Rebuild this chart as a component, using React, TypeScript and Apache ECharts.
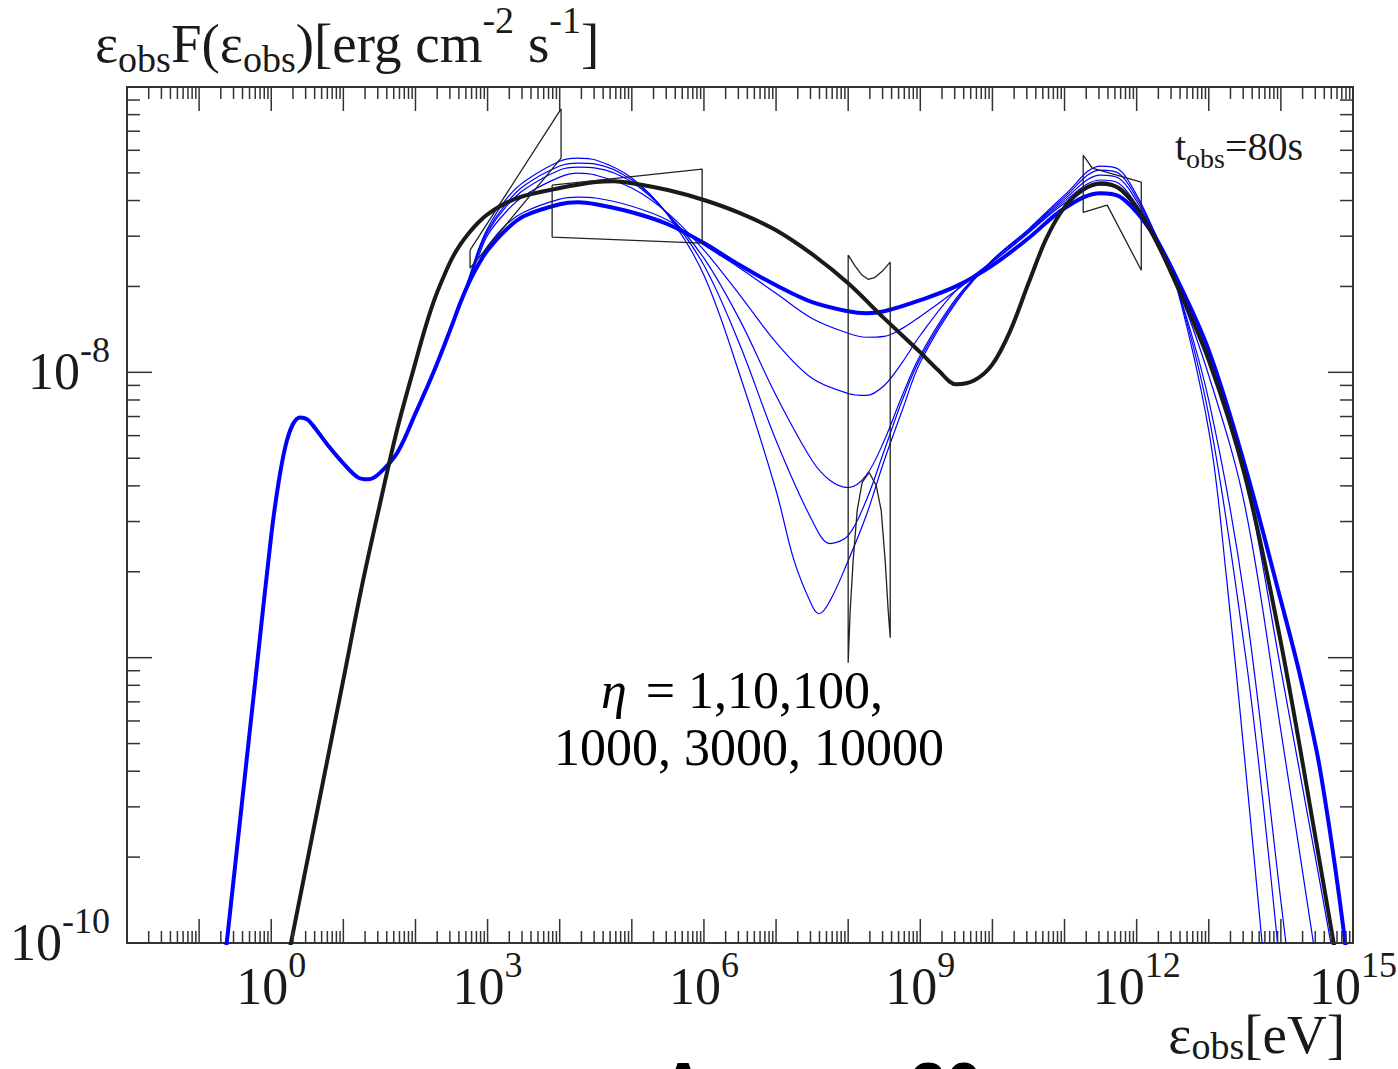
import React, { useEffect, useRef } from "react";
import * as echarts from "echarts";

const SERIF = "'Liberation Serif', 'Times New Roman', serif";
const SANS_BOLD = "'Liberation Sans', Arial, sans-serif";
const TXT = "#1a1a1a";
const AXIS = "#333333";
const BLUE = "#0000ff";
const BLACK = "#1a1a1a";

// axis ranges
const X_MIN = 1e-2;
const X_MAX = 1e15;
const Y_MIN = 1e-10;
const Y_MAX = 1e-7;

// tick labels (exponents of 10)
const xLabelExponents = [0, 3, 6, 9, 12, 15];
const yLabelExponents = [-8, -10];
// decades carrying major ticks
const xDecades = [-2, -1, 0, 1, 2, 3, 4, 5, 6, 7, 8, 9, 10, 11, 12, 13, 14, 15];
const yDecades = [-10, -9, -8, -7];
const minorMultipliers = [2, 3, 4, 5, 6, 7, 8, 9];

// ---- curves, points as [log10(E/eV), log10(E F(E) / erg cm^-2 s^-1)] ----
const blueLowShared = [
  [-0.7, -10.19], [-0.6, -9.96], [-0.4, -9.495], [-0.2, -9.032], [0, -8.572], [0.1, -8.389],
  [0.2, -8.256], [0.3, -8.182], [0.4, -8.158], [0.5, -8.165], [0.6, -8.193], [0.8, -8.26],
  [1.0, -8.319], [1.2, -8.368], [1.35, -8.375], [1.5, -8.354], [1.75, -8.281], [2.0, -8.144],
  [2.25, -8.0], [2.5, -7.839], [2.625, -7.754],
];

const eta1 = [
  [2.75, -7.681], [2.875, -7.621], [3, -7.572], [3.25, -7.502], [3.5, -7.453], [4, -7.411],
  [4.25, -7.404], [4.5, -7.411], [5, -7.439], [5.5, -7.481], [6, -7.547], [6.5, -7.625],
  [7, -7.695], [7.5, -7.754], [8, -7.786], [8.25, -7.793], [8.5, -7.786], [9, -7.747],
  [9.5, -7.698], [10, -7.625], [10.5, -7.53], [11, -7.425], [11.5, -7.372], [11.75, -7.382],
  [12, -7.439], [12.25, -7.526], [12.5, -7.642], [13, -7.923], [13.5, -8.326], [14, -8.8],
  [14.25, -9.046], [14.5, -9.333], [14.625, -9.519], [14.75, -9.73], [14.875, -9.965],
  [15, -10.221],
];

const eta10 = [
  [2.75, -7.677], [2.875, -7.614], [3, -7.558], [3.25, -7.484], [3.5, -7.439], [4, -7.393],
  [4.25, -7.386], [4.5, -7.389], [5, -7.418], [5.5, -7.467], [6, -7.554], [6.5, -7.635],
  [7, -7.723], [7.5, -7.811], [8, -7.863], [8.25, -7.877], [8.5, -7.874], [8.75, -7.846],
  [9, -7.804], [9.5, -7.712], [10, -7.614], [10.5, -7.512], [11, -7.407], [11.5, -7.344],
  [11.75, -7.358], [12, -7.432], [12.25, -7.53], [12.5, -7.66], [13, -7.958], [13.5, -8.361],
  [14, -9.042], [14.5, -9.73], [14.75, -10.081],
];

const eta100 = [
  [2.75, -7.674], [2.875, -7.593], [3, -7.519], [3.25, -7.439], [3.5, -7.382], [4, -7.316],
  [4.25, -7.302], [4.5, -7.309], [5, -7.354], [5.5, -7.442], [6, -7.572], [6.5, -7.73],
  [7, -7.895], [7.5, -8.021], [8, -8.074], [8.25, -8.081], [8.5, -8.046], [8.75, -7.965],
  [9, -7.87], [9.5, -7.712], [10, -7.611], [10.5, -7.509], [11, -7.4], [11.5, -7.326],
  [11.75, -7.337], [12, -7.414], [12.25, -7.523], [12.5, -7.656], [13, -8.011], [13.5, -8.467],
  [14, -9.256], [14.5, -10.081],
];

const eta1000 = [
  [2.75, -7.67], [2.875, -7.582], [3, -7.509], [3.25, -7.421], [3.5, -7.361], [4, -7.291],
  [4.25, -7.281], [4.5, -7.284], [5, -7.333], [5.5, -7.446], [6, -7.6], [6.5, -7.818],
  [7, -8.081], [7.5, -8.309], [7.75, -8.379], [8, -8.404], [8.25, -8.361], [8.5, -8.239],
  [8.75, -8.081], [9, -7.94], [9.5, -7.74], [10, -7.607], [10.5, -7.505], [11, -7.393],
  [11.5, -7.309], [11.75, -7.319], [12, -7.4], [12.25, -7.516], [12.5, -7.653], [13, -8.098],
  [13.5, -8.8], [14, -9.853], [14.1, -10.063],
];

const eta3000 = [
  [2.75, -7.667], [2.875, -7.575], [3, -7.502], [3.25, -7.411], [3.5, -7.347], [4, -7.277],
  [4.25, -7.267], [4.5, -7.27], [5, -7.326], [5.5, -7.446], [6, -7.625], [6.5, -7.905],
  [7, -8.239], [7.5, -8.519], [7.75, -8.6], [8, -8.572], [8.25, -8.449], [8.5, -8.274],
  [8.75, -8.098], [9, -7.951], [9.5, -7.747], [10, -7.607], [10.5, -7.502], [11, -7.386],
  [11.5, -7.291], [11.75, -7.302], [12, -7.389], [12.25, -7.512], [12.5, -7.649], [13, -8.151],
  [13.5, -8.975], [13.75, -9.502], [14, -10.116],
];

const eta10000 = [
  [2.75, -7.663], [2.875, -7.568], [3, -7.495], [3.25, -7.396], [3.5, -7.333], [4, -7.26],
  [4.25, -7.249], [4.5, -7.256], [5, -7.319], [5.5, -7.449], [6, -7.66], [6.5, -8.011],
  [7, -8.414], [7.25, -8.66], [7.5, -8.818], [7.6, -8.846], [7.75, -8.8], [8, -8.66],
  [8.25, -8.502], [8.5, -8.309], [8.75, -8.133], [9, -7.965], [9.5, -7.754], [10, -7.607],
  [10.5, -7.498], [11, -7.379], [11.5, -7.277], [11.75, -7.288], [12, -7.379], [12.25, -7.509],
  [12.5, -7.649], [13, -8.204], [13.25, -8.73], [13.5, -9.361], [13.75, -10.028],
];

const standardModel = [
  [0.1, -10.221], [0.5, -9.712], [1.0, -9.077], [1.25, -8.758], [1.5, -8.47], [1.75, -8.196],
  [2, -7.965], [2.125, -7.853], [2.25, -7.754], [2.375, -7.674], [2.5, -7.604], [2.625, -7.551],
  [2.75, -7.509], [2.875, -7.474], [3, -7.446], [3.25, -7.407], [3.5, -7.382], [4, -7.354],
  [4.5, -7.333], [4.75, -7.33], [5, -7.337], [5.5, -7.361], [6, -7.396], [6.5, -7.442],
  [7, -7.502], [7.5, -7.586], [8, -7.688], [8.5, -7.811], [9, -7.93], [9.25, -7.993],
  [9.5, -8.042], [9.75, -8.028], [10, -7.972], [10.25, -7.853], [10.5, -7.688], [10.75, -7.53],
  [11, -7.421], [11.25, -7.361], [11.5, -7.337], [11.75, -7.354], [12, -7.421], [12.25, -7.53],
  [12.5, -7.663], [13, -7.958], [13.5, -8.361], [14, -8.947], [14.5, -9.66], [14.75, -10.028],
];

// observational butterflies / boxes
const xrayBowtie = [
  [2.757, -7.572], [4.019, -7.077], [4.019, -7.249], [2.757, -7.635], [2.757, -7.572],
];
const gbmBox = [
  [3.895, -7.344], [5.975, -7.288], [5.975, -7.547], [3.895, -7.526], [3.895, -7.344],
];
const latShape = [
  [8.0, -7.589], [8.097, -7.628], [8.194, -7.66], [8.277, -7.674], [8.374, -7.667],
  [8.472, -7.646], [8.583, -7.614], [8.583, -8.93], [8.555, -8.835], [8.513, -8.66],
  [8.458, -8.484], [8.388, -8.396], [8.291, -8.351], [8.194, -8.386], [8.125, -8.484],
  [8.069, -8.66], [8.028, -8.835], [8.0, -9.018], [8.0, -7.589],
];
const icBowtie = [
  [11.259, -7.239], [11.384, -7.284], [12.064, -7.333], [12.064, -7.642], [11.592, -7.414],
  [11.259, -7.439], [11.259, -7.239],
];

const toXY = (pts: number[][]) => pts.map(([a, b]) => [Math.pow(10, a), Math.pow(10, b)]);

const thinCurves = [eta10, eta100, eta1000, eta3000, eta10000];
const thinNames = ["η=10", "η=100", "η=1000", "η=3000", "η=10000"];

function buildOption() {
  const xTicks: number[][] = [];
  xDecades.forEach((e) => {
    xTicks.push([Math.pow(10, e), Y_MIN, 1]);
    if (e < 15) minorMultipliers.forEach((m) => xTicks.push([m * Math.pow(10, e), Y_MIN, 0]));
  });
  const yTicks: number[][] = [];
  yDecades.forEach((e) => {
    yTicks.push([X_MIN, Math.pow(10, e), 1]);
    if (e < -7) minorMultipliers.forEach((m) => yTicks.push([X_MIN, m * Math.pow(10, e), 0]));
  });

  const labelRich = {
    b: { fontSize: 52, fontFamily: SERIF, fill: TXT, color: TXT, padding: [13, 0, 0, 0], verticalAlign: "top" },
    s: { fontSize: 36, fontFamily: SERIF, fill: TXT, color: TXT, verticalAlign: "top" },
  };

  const lineSeries = (name: string, pts: number[][], color: string, width: number, z: number) => ({
    type: "line",
    name,
    data: toXY(pts),
    showSymbol: false,
    symbol: "none",
    smooth: 0.35,
    clip: true,
    z,
    lineStyle: { color, width },
    silent: true,
  });

  const series: any[] = [];
  thinCurves.forEach((c, i) => series.push(lineSeries(thinNames[i], blueLowShared.concat(c), BLUE, 1.2, 2)));
  series.push(lineSeries("η=1", blueLowShared.concat(eta1), BLUE, 4, 3));
  series.push(lineSeries("standard", standardModel, BLACK, 4, 4));
  [xrayBowtie, gbmBox, latShape, icBowtie].forEach((b, i) =>
    series.push({ ...lineSeries("obs" + i, b, "#222222", 1.3, 5), smooth: false })
  );

  series.push({
    type: "custom",
    name: "xticks",
    silent: true,
    clip: false,
    z: 10,
    dimensions: ["x", "y", "major"],
    encode: { x: 0, y: 1 },
    data: xTicks,
    renderItem: (params: any, api: any) => {
      const x = api.coord([api.value(0), Y_MIN])[0];
      const cs = params.coordSys;
      const len = api.value(2) ? 24 : 12;
      const bottom = cs.y + cs.height;
      const st = { stroke: AXIS, lineWidth: 1.5 };
      return {
        type: "group",
        children: [
          { type: "line", shape: { x1: x, y1: bottom, x2: x, y2: bottom - len }, style: st },
          { type: "line", shape: { x1: x, y1: cs.y, x2: x, y2: cs.y + len }, style: st },
        ],
      };
    },
  });
  series.push({
    type: "custom",
    name: "yticks",
    silent: true,
    clip: false,
    z: 10,
    dimensions: ["x", "y", "major"],
    encode: { x: 0, y: 1 },
    data: yTicks,
    renderItem: (params: any, api: any) => {
      const y = api.coord([X_MIN, api.value(1)])[1];
      const cs = params.coordSys;
      const len = api.value(2) ? 25 : 13;
      const right = cs.x + cs.width;
      const st = { stroke: AXIS, lineWidth: 1.5 };
      return {
        type: "group",
        children: [
          { type: "line", shape: { x1: cs.x, y1: y, x2: cs.x + len, y2: y }, style: st },
          { type: "line", shape: { x1: right, y1: y, x2: right - len, y2: y }, style: st },
        ],
      };
    },
  });
  series.push({
    type: "custom",
    name: "xlabels",
    silent: true,
    clip: false,
    z: 10,
    dimensions: ["x", "y", "exp"],
    encode: { x: 0, y: 1 },
    data: xLabelExponents.map((e) => [Math.pow(10, e), Y_MIN, e]),
    renderItem: (params: any, api: any) => {
      const p = api.coord([api.value(0), Y_MIN]);
      return {
        type: "text",
        x: p[0],
        y: p[1] + 4,
        style: {
          text: `{b|10}{s|${api.value(2)}}`,
          align: "center",
          verticalAlign: "top",
          rich: labelRich,
        },
      };
    },
  });
  series.push({
    type: "custom",
    name: "ylabels",
    silent: true,
    clip: false,
    z: 10,
    dimensions: ["x", "y", "exp"],
    encode: { x: 0, y: 1 },
    data: yLabelExponents.map((e) => [X_MIN, Math.pow(10, e), e]),
    renderItem: (params: any, api: any) => {
      const p = api.coord([X_MIN, api.value(1)]);
      return {
        type: "text",
        x: p[0] - 17,
        y: p[1] - 40,
        style: {
          text: `{b|10}{s|${api.value(2)}}`,
          align: "right",
          verticalAlign: "top",
          rich: labelRich,
        },
      };
    },
  });

  return {
    animation: false,
    backgroundColor: "#ffffff",
    grid: {
      left: 127,
      top: 87,
      width: 1226,
      height: 856,
      show: true,
      borderColor: AXIS,
      borderWidth: 2,
      backgroundColor: "transparent",
      containLabel: false,
      outerBoundsMode: "none",
    },
    xAxis: {
      type: "log",
      logBase: 10,
      min: X_MIN,
      max: X_MAX,
      axisLine: { show: false },
      axisTick: { show: false },
      axisLabel: { show: false },
      splitLine: { show: false },
    },
    yAxis: {
      type: "log",
      logBase: 10,
      min: Y_MIN,
      max: Y_MAX,
      axisLine: { show: false },
      axisTick: { show: false },
      axisLabel: { show: false },
      splitLine: { show: false },
    },
    series,
    graphic: [
      {
        type: "text",
        left: 95,
        top: 1,
        silent: true,
        style: {
          text: "{m|ε}{sb|obs}{m|F(ε}{sb|obs}{m|)[erg cm}{sp|-2}{m| s}{sp|-1}{m|]}",
          rich: {
            m: { fontSize: 55, fontFamily: SERIF, fill: TXT, padding: [15, 0, 0, 0], verticalAlign: "top" },
            sb: { fontSize: 38, fontFamily: SERIF, fill: TXT, padding: [39, 0, 0, 0], verticalAlign: "top" },
            sp: { fontSize: 38, fontFamily: SERIF, fill: TXT, verticalAlign: "top" },
          },
        },
      },
      {
        type: "text",
        left: 1175,
        top: 126,
        silent: true,
        style: {
          text: "{m|t}{sb|obs}{m|=80s}",
          rich: {
            m: { fontSize: 40, fontFamily: SERIF, fill: TXT, verticalAlign: "top" },
            sb: { fontSize: 28, fontFamily: SERIF, fill: TXT, padding: [18, 0, 0, 0], verticalAlign: "top" },
          },
        },
      },
      {
        type: "text",
        right: 53,
        top: 1007,
        silent: true,
        style: {
          text: "{m|ε}{sb|obs}{m|[eV]}",
          rich: {
            m: { fontSize: 55, fontFamily: SERIF, fill: TXT, verticalAlign: "top" },
            sb: { fontSize: 38, fontFamily: SERIF, fill: TXT, padding: [20, 0, 0, 0], verticalAlign: "top" },
          },
        },
      },
      {
        type: "text",
        x: 742,
        y: 690,
        silent: true,
        style: {
          text: "{i|η}{r| = 1,10,100,}",
          align: "center",
          verticalAlign: "middle",
          rich: {
            i: { fontSize: 52, fontFamily: SERIF, fontStyle: "italic", fill: "#000", padding: [0, 6, 0, 0] },
            r: { fontSize: 52, fontFamily: SERIF, fill: "#000" },
          },
        },
      },
      {
        type: "text",
        x: 749,
        y: 747,
        silent: true,
        style: {
          text: "1000, 3000, 10000",
          align: "center",
          verticalAlign: "middle",
          fontSize: 52,
          fontFamily: SERIF,
          fill: "#000",
        },
      },
      {
        type: "text",
        x: 683,
        y: 1086,
        silent: true,
        style: { text: "A", align: "center", verticalAlign: "middle", fontSize: 64, fontWeight: "bold", fontFamily: SANS_BOLD, fill: "#000" },
      },
      {
        type: "text",
        x: 946,
        y: 1086,
        silent: true,
        style: { text: "30", align: "center", verticalAlign: "middle", fontSize: 64, fontWeight: "bold", fontFamily: SANS_BOLD, fill: "#000" },
      },
    ],
  };
}

export default function App() {
  const ref = useRef<HTMLDivElement>(null);
  useEffect(() => {
    if (!ref.current) return;
    const chart = echarts.init(ref.current, null, { renderer: "svg" });
    chart.setOption(buildOption() as any);
    return () => chart.dispose();
  }, []);
  return (
    <div
      ref={ref}
      style={{ position: "fixed", left: 0, top: 0, width: 1398, height: 1069, background: "#fff", overflow: "hidden" }}
    />
  );
}
